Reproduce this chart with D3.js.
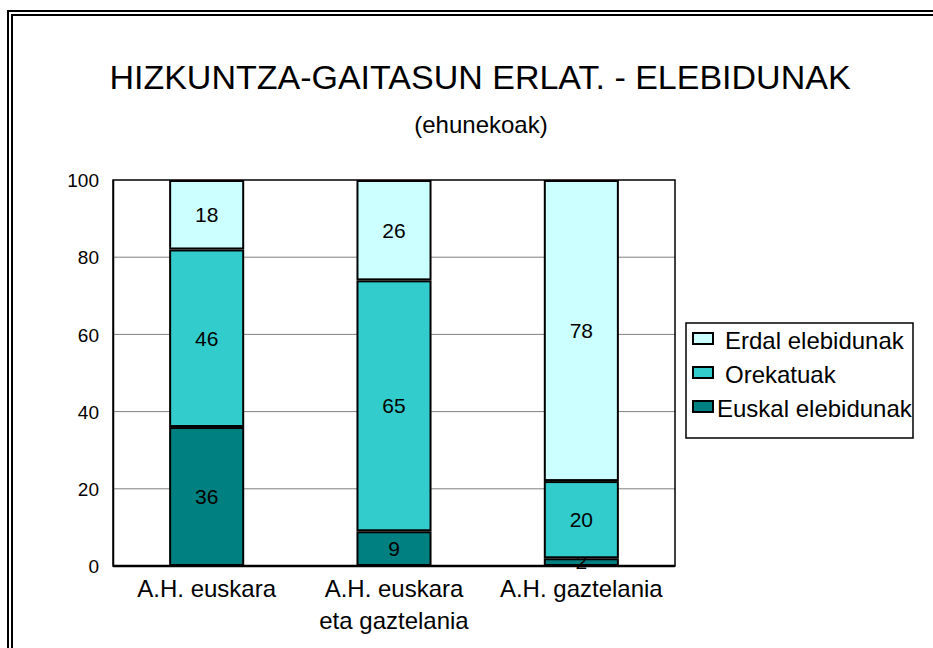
<!DOCTYPE html>
<html>
<head>
<meta charset="utf-8">
<script src="https://cdn.jsdelivr.net/npm/d3@7"></script>
<style>
  body { margin: 0; background: #fff; }
  text { font-family: "Liberation Sans", Arial, sans-serif; fill: #000; }
</style>
</head>
<body>
<div id="chart"></div>
<script>
// data
var categories = ["A.H. euskara", "A.H. euskara|eta gaztelania", "A.H. gaztelania"];
var seriesNames = ["Euskal elebidunak", "Orekatuak", "Erdal elebidunak"];
var euskal = [36, 9, 2];
var orekatuak = [46, 65, 20];
var erdal = [18, 26, 78];
var yTicks = [0, 20, 40, 60, 80, 100];

var colors = ["#008080", "#33CCCC", "#CCFFFF"];

var width = 933, height = 648;
var margin = {left: 113, top: 180, right: 258, bottom: 82};

var svg = d3.select("#chart").append("svg")
  .attr("width", width)
  .attr("height", height);

// double frame around the whole chart
svg.append("rect").attr("x", 8).attr("y", 11).attr("width", 960).attr("height", 700)
  .attr("fill", "none").attr("stroke", "#000").attr("stroke-width", 2);
svg.append("rect").attr("x", 12).attr("y", 15).attr("width", 960).attr("height", 700)
  .attr("fill", "none").attr("stroke", "#000").attr("stroke-width", 2);

svg.append("text")
  .attr("x", 480).attr("y", 89)
  .attr("text-anchor", "middle")
  .style("font-size", "34px")
  .text("HIZKUNTZA-GAITASUN ERLAT. - ELEBIDUNAK");
svg.append("text")
  .attr("x", 481).attr("y", 133)
  .attr("text-anchor", "middle")
  .style("font-size", "24px")
  .text("(ehunekoak)");

var x = d3.scaleBand()
  .domain(categories)
  .range([margin.left, width - margin.right])
  .paddingInner(0.61).paddingOuter(0.305);

var y = d3.scaleLinear()
  .domain([0, 100])
  .range([height - margin.bottom, margin.top]);

// gridlines
svg.append("g")
  .selectAll("line")
  .data(yTicks.filter(function(d) { return d > 0 && d < 100; }))
  .enter().append("line")
  .attr("x1", margin.left).attr("x2", width - margin.right)
  .attr("y1", function(d) { return y(d); })
  .attr("y2", function(d) { return y(d); })
  .attr("stroke", "#808080").attr("stroke-width", 1);

// plot area frame
svg.append("rect")
  .attr("x", margin.left).attr("y", y(100))
  .attr("width", width - margin.right - margin.left)
  .attr("height", y(0) - y(100))
  .attr("fill", "none").attr("stroke", "#000").attr("stroke-width", 1.5);

// y axis
var yAxis = svg.append("g")
  .attr("transform", "translate(" + margin.left + ",0)")
  .call(d3.axisLeft(y).tickValues(yTicks).tickSize(0).tickPadding(14));
yAxis.select(".domain").attr("stroke", "#000").attr("stroke-width", 1.5);
yAxis.selectAll("text").style("font-size", "19px").attr("dy", "0.35em");

// stacked bars
var table = categories.map(function(c, i) {
  return {cat: c, s0: euskal[i], s1: orekatuak[i], s2: erdal[i]};
});
var stack = d3.stack().keys(["s0", "s1", "s2"])(table);

var layers = svg.append("g").selectAll("g")
  .data(stack)
  .enter().append("g")
  .attr("fill", function(d, i) { return colors[i]; });

layers.selectAll("rect")
  .data(function(d) { return d; })
  .enter().append("rect")
  .attr("x", function(d) { return x(d.data.cat); })
  .attr("width", x.bandwidth())
  .attr("y", function(d) { return y(d[1]) + 1; })
  .attr("height", function(d) { return Math.max(0, y(d[0]) - y(d[1]) - 2); })
  .attr("stroke", "#000").attr("stroke-width", 2);

layers.selectAll("text")
  .data(function(d) { return d; })
  .enter().append("text")
  .attr("x", function(d) { return x(d.data.cat) + x.bandwidth() / 2; })
  .attr("y", function(d) { return y((d[0] + d[1]) / 2); })
  .attr("dy", "0.35em")
  .attr("text-anchor", "middle")
  .style("font-size", "21px")
  .style("fill", "#000")
  .text(function(d) { return d[1] - d[0]; });

// bottom axis line
svg.append("line")
  .attr("x1", margin.left).attr("x2", width - margin.right)
  .attr("y1", y(0)).attr("y2", y(0))
  .attr("stroke", "#000").attr("stroke-width", 2.5);

// category labels
var xl = svg.append("g").selectAll("text")
  .data(categories)
  .enter().append("text")
  .attr("x", function(d) { return x(d) + x.bandwidth() / 2; })
  .attr("y", 597)
  .attr("text-anchor", "middle")
  .style("font-size", "24px");
xl.selectAll("tspan")
  .data(function(d) { return d.split("|"); })
  .enter().append("tspan")
  .attr("x", function() { return d3.select(this.parentNode).attr("x"); })
  .attr("dy", function(d, i) { return i === 0 ? 0 : 32; })
  .text(function(d) { return d; });

// legend
var lg = svg.append("g").attr("transform", "translate(686,323)");
lg.append("rect").attr("width", 227).attr("height", 115)
  .attr("fill", "#fff").attr("stroke", "#000").attr("stroke-width", 1.5);
var items = lg.selectAll("g.item")
  .data(seriesNames.slice().reverse())
  .enter().append("g")
  .attr("class", "item")
  .attr("transform", function(d, i) { return "translate(0," + (16 + i * 34) + ")"; });
items.append("rect")
  .attr("x", 7).attr("y", -6).attr("width", 20).attr("height", 11)
  .attr("fill", function(d, i) { return colors[2 - i]; })
  .attr("stroke", "#000").attr("stroke-width", 2);
items.append("text")
  .attr("x", function(d, i) { return i === 2 ? 31 : 39; })
  .attr("y", 10)
  .style("font-size", "24px")
  .text(function(d) { return d; });
</script>
</body>
</html>
